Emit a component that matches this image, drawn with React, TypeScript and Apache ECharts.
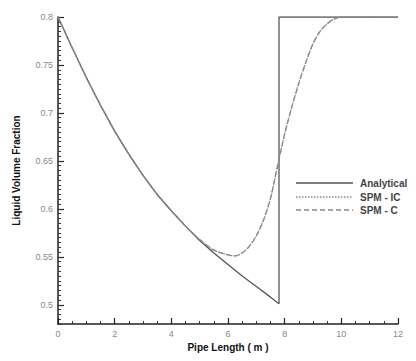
import React, { useEffect, useRef } from "react";
import * as echarts from "echarts";

const analyticalX = [0, 0.5, 1, 1.5, 2, 2.5, 3, 3.5, 4, 4.5, 5, 5.5, 6, 6.5, 7, 7.5, 7.8, 7.8, 12];
const analyticalY = [0.8, 0.768, 0.737, 0.708, 0.681, 0.657, 0.635, 0.615, 0.598, 0.582, 0.567, 0.554, 0.542, 0.53, 0.519, 0.508, 0.501, 0.8, 0.8];

const spmX = [0, 0.5, 1, 1.5, 2, 2.5, 3, 3.5, 4, 4.5, 5, 5.5, 6, 6.25, 6.5, 6.75, 7, 7.25, 7.5, 7.75, 8, 8.25, 8.5, 8.75, 9, 9.25, 9.5, 9.75, 10, 10.5, 11, 12];
const spmICY = [0.8, 0.768, 0.737, 0.708, 0.681, 0.657, 0.635, 0.615, 0.598, 0.582, 0.568, 0.557, 0.552, 0.551, 0.554, 0.561, 0.572, 0.588, 0.611, 0.645, 0.678, 0.706, 0.731, 0.753, 0.772, 0.785, 0.793, 0.798, 0.8, 0.8, 0.8, 0.8];
const spmCY = [0.8, 0.768, 0.737, 0.708, 0.681, 0.657, 0.635, 0.615, 0.598, 0.582, 0.568, 0.557, 0.552, 0.551, 0.554, 0.561, 0.572, 0.588, 0.611, 0.645, 0.678, 0.706, 0.731, 0.753, 0.772, 0.785, 0.793, 0.798, 0.8, 0.8, 0.8, 0.8];

const yLabels = [0.5, 0.55, 0.6, 0.65, 0.7, 0.75, 0.8];
const yMinorTicks: number[] = [];
for (let i = 0; i <= 64; i++) yMinorTicks.push(+(0.48 + i * 0.005).toFixed(3));

const seriesNames = ["Analytical", "SPM - IC", "SPM - C"];
const seriesColors = ["#555", "#888", "#888"];
const seriesDash: ("solid" | "dotted" | "dashed")[] = ["solid", "dotted", "dashed"];

const pairs = (xs: number[], ys: number[]) => xs.map((x, i) => [x, ys[i]]);

export default function App() {
  const ref = useRef<HTMLDivElement>(null);
  useEffect(() => {
    const chart = echarts.init(ref.current!, undefined, { renderer: "svg" });
    const font = "Liberation Sans, Arial, sans-serif";
    const legendRows = [183, 197, 210];
    const legendGraphics: any[] = [];
    seriesNames.forEach((n, i) => {
      legendGraphics.push({
        type: "line",
        shape: { x1: 296, y1: legendRows[i], x2: 353, y2: legendRows[i] },
        style: {
          stroke: seriesColors[i],
          lineWidth: 1.3,
          lineDash: seriesDash[i] === "dotted" ? [1.5, 1.5] : seriesDash[i] === "dashed" ? [5, 3] : null,
        },
      });
      legendGraphics.push({
        type: "text",
        x: 360,
        y: legendRows[i],
        style: {
          text: n,
          fontSize: 10,
          fontWeight: "bold",
          fill: "#444",
          fontFamily: font,
          verticalAlign: "middle",
          align: "left",
        },
      });
    });
    chart.setOption({
      animation: false,
      textStyle: { fontFamily: font },
      grid: { left: 58, right: 18, top: 17, bottom: 37 },
      graphic: legendGraphics,
      xAxis: {
        type: "value",
        min: 0,
        max: 12,
        interval: 2,
        name: "Pipe Length ( m )",
        nameLocation: "middle",
        nameGap: 18,
        nameTextStyle: { fontSize: 10, fontWeight: "bold", color: "#111", fontFamily: font },
        axisLine: { show: true, lineStyle: { color: "#222", width: 1.5 } },
        axisTick: { show: true, inside: true, length: 6, lineStyle: { color: "#222", width: 1.2 } },
        minorTick: { show: true, splitNumber: 4, length: 3, lineStyle: { color: "#333", width: 1 } },
        axisLabel: { show: true, fontSize: 9, color: "#888", margin: 5 },
        splitLine: { show: false },
        minorSplitLine: { show: false },
      },
      yAxis: [
        {
          type: "value",
          min: 0.48,
          max: 0.8,
          name: "Liquid Volume Fraction",
          nameLocation: "middle",
          nameGap: 37,
          nameTextStyle: { fontSize: 10, fontWeight: "bold", color: "#111", fontFamily: font },
          axisLine: { show: true, lineStyle: { color: "#222", width: 1.5 } },
          axisTick: { show: true, inside: true, length: 6, customValues: yLabels, lineStyle: { color: "#222", width: 1.2 } },
          axisLabel: { show: true, fontSize: 9, color: "#888", margin: 5, customValues: yLabels },
          splitLine: { show: false },
        },
        {
          type: "value",
          min: 0.48,
          max: 0.8,
          position: "left",
          axisLine: { show: false },
          axisTick: { show: true, inside: true, length: 3, customValues: yMinorTicks, lineStyle: { color: "#333", width: 1 } },
          axisLabel: { show: false, customValues: yMinorTicks },
          splitLine: { show: false },
        },
      ],
      series: seriesNames.map((n, i) => ({
        name: n,
        type: "line",
        symbol: "none",
        smooth: i === 0 ? false : 0.3,
        data: i === 0 ? pairs(analyticalX, analyticalY) : pairs(spmX, i === 1 ? spmICY : spmCY),
        lineStyle: { color: seriesColors[i], width: 1.3, type: seriesDash[i] },
        itemStyle: { color: seriesColors[i] },
      })),
    });
    return () => chart.dispose();
  }, []);
  return <div ref={ref} style={{ width: 416, height: 361, position: "absolute", left: 0, top: 0, background: "#fff" }} />;
}
